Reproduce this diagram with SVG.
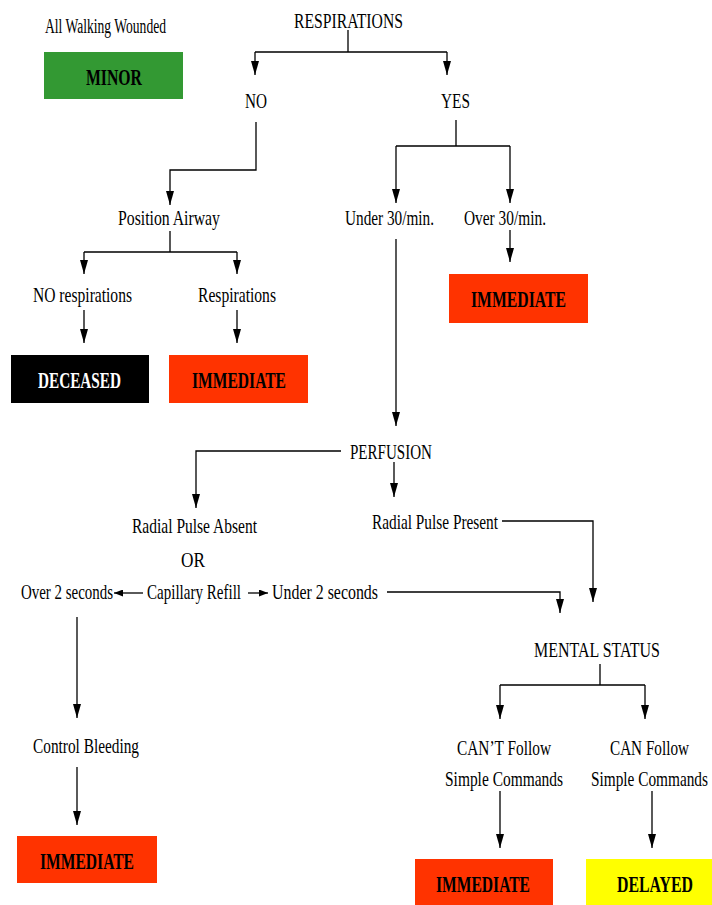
<svg xmlns="http://www.w3.org/2000/svg" width="712" height="905" viewBox="0 0 712 905">
<style>
text{font-family:"Liberation Serif","Times New Roman",serif;font-size:21px;fill:#000}
.sm{font-size:20px}
.b{font-weight:bold;font-size:24px}
.w{fill:#fff}
.e{text-anchor:end}
.c{fill:none;stroke:#000;stroke-width:1.3}
.a{marker-end:url(#ah)}
.s{marker-end:url(#sh)}
</style>
<defs>
<marker id="ah" markerUnits="userSpaceOnUse" viewBox="0 0 14 8" refX="14" refY="4" markerWidth="14" markerHeight="8" orient="auto">
<path d="M0,0 L14,4 L0,8 z" fill="#000"/>
</marker>
<marker id="sh" markerUnits="userSpaceOnUse" viewBox="0 0 9 7" refX="9" refY="3.5" markerWidth="9" markerHeight="7" orient="auto">
<path d="M0,0 L9,3.5 L0,7 z" fill="#000"/>
</marker>
</defs>
<rect width="712" height="905" fill="#fff"/>

<g id="connectors">
<path class="c" d="M348,30 V52 M255,52 H447"/>
<path class="c a" d="M255,52 V75"/>
<path class="c a" d="M447,52 V75"/>
<path class="c a" d="M256,122 V170 H170 V205"/>
<path class="c" d="M170,231 V252 M84,252 H237"/>
<path class="c a" d="M84,252 V274"/>
<path class="c a" d="M237,252 V274"/>
<path class="c a" d="M84,310 V343"/>
<path class="c a" d="M237,310 V343"/>
<path class="c" d="M456,120 V146 M396,146 H510"/>
<path class="c a" d="M396,146 V203"/>
<path class="c a" d="M510,146 V203"/>
<path class="c a" d="M510,230 V262"/>
<path class="c a" d="M396,239 V426"/>
<path class="c a" d="M341,451 H196 V508"/>
<path class="c a" d="M394,462 V497"/>
<path class="c a" d="M502,521 H593 V602"/>
<path class="c s" d="M143,593 H114"/>
<path class="c s" d="M248,593 H268"/>
<path class="c a" d="M387,592 H560 V613"/>
<path class="c a" d="M77,617 V718"/>
<path class="c a" d="M77,767 V825"/>
<path class="c" d="M600,664 V685 M500,685 H645"/>
<path class="c a" d="M500,685 V719"/>
<path class="c a" d="M645,685 V719"/>
<path class="c a" d="M500,791 V848"/>
<path class="c a" d="M652,791 V848"/>
</g>

<g id="walking"><text class="sm" x="45" y="33" textLength="121" lengthAdjust="spacingAndGlyphs">All Walking Wounded</text></g>
<g id="minor"><rect x="44" y="52" width="139" height="47" fill="#339933"/><text class="b" x="86" y="85" textLength="56" lengthAdjust="spacingAndGlyphs">MINOR</text></g>
<g id="respirations"><text x="294" y="28" textLength="109" lengthAdjust="spacingAndGlyphs">RESPIRATIONS</text></g>
<g id="no"><text x="245" y="108" textLength="22" lengthAdjust="spacingAndGlyphs">NO</text></g>
<g id="yes"><text x="441" y="108" textLength="29" lengthAdjust="spacingAndGlyphs">YES</text></g>
<g id="position-airway"><text x="118" y="225" textLength="102" lengthAdjust="spacingAndGlyphs">Position Airway</text></g>
<g id="no-respirations"><text x="33" y="302" textLength="99" lengthAdjust="spacingAndGlyphs">NO respirations</text></g>
<g id="respirations2"><text x="198" y="302" textLength="78" lengthAdjust="spacingAndGlyphs">Respirations</text></g>
<g id="deceased"><rect x="11" y="355" width="138" height="48" fill="#000"/><text class="b w" x="38" y="388" textLength="83" lengthAdjust="spacingAndGlyphs">DECEASED</text></g>
<g id="immediate1"><rect x="169" y="355" width="139" height="48" fill="#ff3300"/><text class="b" x="192" y="388" textLength="94" lengthAdjust="spacingAndGlyphs">IMMEDIATE</text></g>
<g id="under30"><text x="345" y="225" textLength="89" lengthAdjust="spacingAndGlyphs">Under 30/min.</text></g>
<g id="over30"><text x="464" y="225" textLength="82" lengthAdjust="spacingAndGlyphs">Over 30/min.</text></g>
<g id="immediate2"><rect x="449" y="274" width="139" height="49" fill="#ff3300"/><text class="b" x="471" y="307" textLength="95" lengthAdjust="spacingAndGlyphs">IMMEDIATE</text></g>
<g id="perfusion"><text x="350" y="459" textLength="82" lengthAdjust="spacingAndGlyphs">PERFUSION</text></g>
<g id="radial-absent"><text x="132" y="533" textLength="125" lengthAdjust="spacingAndGlyphs">Radial Pulse Absent</text><text x="181" y="567" textLength="24" lengthAdjust="spacingAndGlyphs">OR</text></g>
<g id="radial-present"><text x="372" y="529" textLength="126" lengthAdjust="spacingAndGlyphs">Radial Pulse Present</text></g>
<g id="over2"><text x="21" y="599" textLength="92" lengthAdjust="spacingAndGlyphs">Over 2 seconds</text></g>
<g id="capillary"><text x="147" y="599" textLength="94" lengthAdjust="spacingAndGlyphs">Capillary Refill</text></g>
<g id="under2"><text x="272" y="599" textLength="106" lengthAdjust="spacingAndGlyphs">Under 2 seconds</text></g>
<g id="control-bleeding"><text x="33" y="753" textLength="106" lengthAdjust="spacingAndGlyphs">Control Bleeding</text></g>
<g id="immediate3"><rect x="17" y="836" width="140" height="47" fill="#ff3300"/><text class="b" x="40" y="869" textLength="94" lengthAdjust="spacingAndGlyphs">IMMEDIATE</text></g>
<g id="mental-status"><text class="e" x="660" y="657" textLength="126" lengthAdjust="spacingAndGlyphs">MENTAL STATUS</text></g>
<g id="cant-follow"><text x="457" y="755" textLength="94" lengthAdjust="spacingAndGlyphs">CAN’T Follow</text><text x="445" y="786" textLength="118" lengthAdjust="spacingAndGlyphs">Simple Commands</text></g>
<g id="can-follow"><text class="e" x="689" y="755" textLength="79" lengthAdjust="spacingAndGlyphs">CAN Follow</text><text class="e" x="708" y="786" textLength="117" lengthAdjust="spacingAndGlyphs">Simple Commands</text></g>
<g id="immediate4"><rect x="415" y="859" width="138" height="50" fill="#ff3300"/><text class="b" x="436" y="892" textLength="94" lengthAdjust="spacingAndGlyphs">IMMEDIATE</text></g>
<g id="delayed"><rect x="586" y="859" width="130" height="50" fill="#ffff00"/><text class="b e" x="693" y="892" textLength="76" lengthAdjust="spacingAndGlyphs">DELAYED</text></g>
</svg>
